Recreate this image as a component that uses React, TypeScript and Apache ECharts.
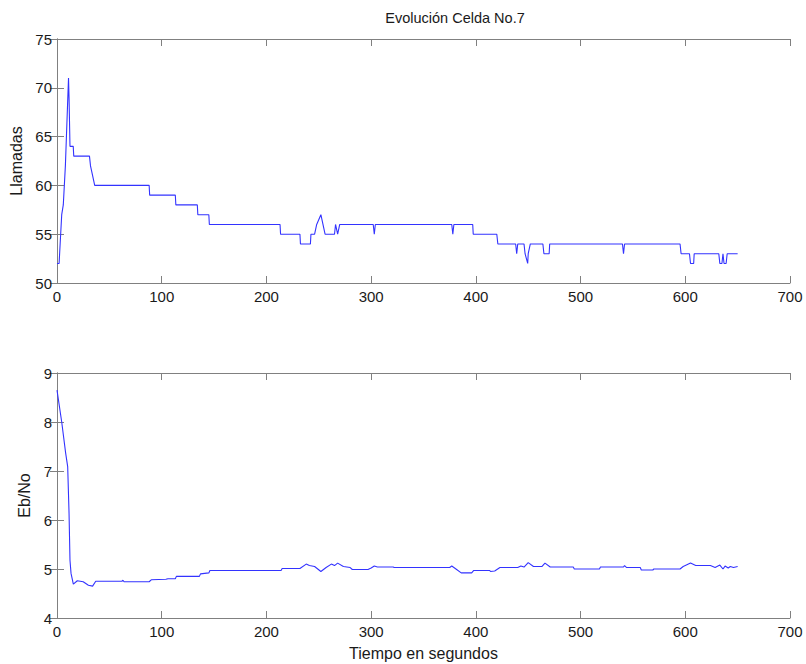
import React, { useEffect, useRef } from "react";
import * as echarts from "echarts";

const titleText = "Evolución Celda No.7";
const xName = "Tiempo en segundos";
const topYName = "Llamadas";
const bottomYName = "Eb/No";

const callsTime = [0, 2, 4.5, 6, 8, 10, 11, 11.5, 12.4, 15.5, 16, 31, 32, 34, 36, 88, 88.5, 113, 113.5, 134, 134.5, 145, 145.5, 213, 213.5, 232, 232.5, 242, 242.5, 246, 248, 252, 254, 256, 265, 266, 268, 270, 302, 303, 304, 377, 378, 379, 397, 397.5, 420, 421, 438, 439, 440, 446, 447, 449.5, 450, 452, 464, 465, 470, 470.5, 540, 541, 542, 595, 596, 604, 605, 608, 608.5, 632, 633, 635, 636, 637, 639, 640, 650];
const callsValue = [52, 52, 57, 58, 62, 68, 71, 69, 64, 64, 63, 63, 62, 61, 60, 60, 59, 59, 58, 58, 57, 57, 56, 56, 55, 55, 54, 54, 55, 55, 56, 57, 56, 55, 55, 56, 55, 56, 56, 55, 56, 56, 55, 56, 56, 55, 55, 54, 54, 53, 54, 54, 53, 52, 53, 54, 54, 53, 53, 54, 54, 53, 54, 54, 53, 53, 52, 52, 53, 53, 52, 52, 53, 52, 52, 53, 53];

const ebTime = [0, 4.5, 8.3, 10.2, 11.5, 12.4, 13.4, 15.6, 19.4, 25, 30, 34, 37, 62, 63, 64, 88, 90, 104, 106, 113, 114, 136, 137, 145, 146, 214, 215, 232, 238, 241, 246, 249, 252, 257, 262, 265, 268, 273.5, 280, 282, 297, 300, 303, 306, 321, 322, 375, 377, 381, 386, 396, 398, 413, 414, 418, 423, 440, 443, 446, 450, 455, 463, 466, 471, 493, 494, 518, 519, 541, 542, 544, 557, 558, 569, 570, 595, 598, 605, 610, 624, 628.5, 633, 636, 638, 641, 643, 646, 650];
const ebValue = [8.65, 8.0, 7.36, 7.09, 6.14, 5.18, 4.91, 4.69, 4.76, 4.74, 4.67, 4.65, 4.75, 4.75, 4.77, 4.74, 4.74, 4.78, 4.79, 4.8, 4.8, 4.85, 4.85, 4.9, 4.92, 4.97, 4.97, 5.01, 5.01, 5.1, 5.07, 5.05, 5.0, 4.95, 5.03, 5.1, 5.07, 5.12, 5.05, 5.03, 4.99, 4.99, 5.02, 5.06, 5.04, 5.04, 5.03, 5.03, 5.06, 5.0, 4.92, 4.92, 4.97, 4.97, 4.95, 4.96, 5.03, 5.03, 5.06, 5.04, 5.13, 5.05, 5.05, 5.12, 5.04, 5.04, 5.0, 5.0, 5.04, 5.04, 5.07, 5.03, 5.03, 4.98, 4.98, 5.0, 5.0, 5.05, 5.12, 5.07, 5.07, 5.03, 5.08, 5.0, 5.06, 5.02, 5.05, 5.03, 5.05];

const FONT = "'Liberation Sans', Arial, Helvetica, sans-serif";
const AXIS_COLOR = "#808080";
const LINE_COLOR = "#3333ff";

function zip(a: number[], b: number[]) {
  return a.map((t, i) => [t, b[i]]);
}

export default function App() {
  const ref = useRef<HTMLDivElement>(null);
  useEffect(() => {
    if (!ref.current) return;
    const chart = echarts.init(ref.current, undefined, { renderer: "svg" });
    const axisLine = { show: true, lineStyle: { color: AXIS_COLOR, width: 1 } };
    const tickIn = { show: true, inside: true, length: 7, lineStyle: { color: AXIS_COLOR } };
    const label = { color: "#1a1a1a", fontSize: 15, fontFamily: FONT };
    const xBase = (grid: number, bottom: boolean, name?: string) => ({
      type: "value",
      gridIndex: grid,
      position: bottom ? "bottom" : "top",
      min: 0,
      max: 700,
      interval: 100,
      axisLine,
      axisTick: tickIn,
      splitLine: { show: false },
      axisLabel: bottom ? { ...label, margin: 6 } : { show: false },
      name: name,
      nameLocation: "middle",
      nameGap: 27,
      nameTextStyle: { color: "#1a1a1a", fontSize: 16, fontFamily: FONT },
    });
    const yBase = (grid: number, left: boolean, min: number, max: number, interval: number, name?: string, gap?: number) => ({
      type: "value",
      gridIndex: grid,
      position: left ? "left" : "right",
      min,
      max,
      interval,
      axisLine,
      axisTick: tickIn,
      splitLine: { show: false },
      axisLabel: left ? { ...label, margin: 5 } : { show: false },
      name: name,
      nameLocation: "middle",
      nameGap: gap,
      nameTextStyle: { color: "#1a1a1a", fontSize: 16, fontFamily: FONT },
    });
    chart.setOption({
      animation: false,
      title: {
        text: titleText,
        left: 450,
        textAlign: "center",
        top: 5,
        textStyle: { color: "#1a1a1a", fontSize: 14.5, fontWeight: "normal", fontFamily: FONT },
      },
      grid: [
        { left: 57, right: 16, top: 39, height: 244 },
        { left: 57, right: 16, top: 373, height: 245 },
      ],
      xAxis: [xBase(0, true), xBase(0, false), xBase(1, true, xName), xBase(1, false)],
      yAxis: [
        yBase(0, true, 50, 75, 5, topYName, 24),
        yBase(0, false, 50, 75, 5),
        yBase(1, true, 4, 9, 1, bottomYName, 19),
        yBase(1, false, 4, 9, 1),
      ],
      series: [
        {
          type: "line",
          xAxisIndex: 0,
          yAxisIndex: 0,
          data: zip(callsTime, callsValue),
          showSymbol: false,
          symbol: "none",
          lineStyle: { color: LINE_COLOR, width: 1.1 },
        },
        {
          type: "line",
          xAxisIndex: 2,
          yAxisIndex: 2,
          data: zip(ebTime, ebValue),
          showSymbol: false,
          symbol: "none",
          lineStyle: { color: LINE_COLOR, width: 1.1 },
        },
      ],
    });
    return () => chart.dispose();
  }, []);
  return (
    <div
      ref={ref}
      style={{ position: "fixed", left: 0, top: 0, width: 806, height: 664, background: "#fff" }}
    />
  );
}
